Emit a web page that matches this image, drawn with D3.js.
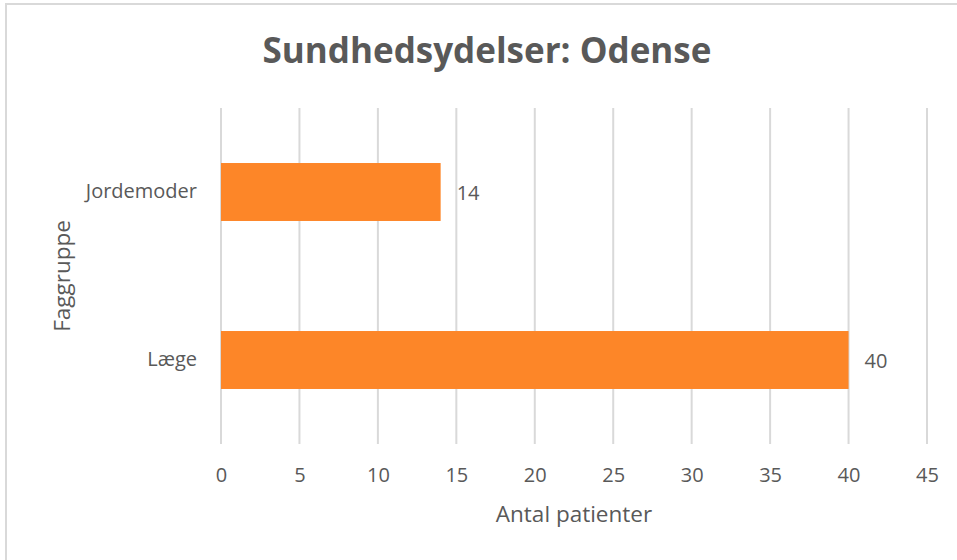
<!DOCTYPE html>
<html><head><meta charset="utf-8">
<script src="https://cdn.jsdelivr.net/npm/d3@7"></script>
<style>
html,body{margin:0;padding:0;background:#fff;}
text{font-family:"Open Sans",Lato,sans-serif;fill:#595959;}
</style></head>
<body><svg id="c" width="957" height="560"></svg>
<script>
const categories = ["Læge", "Jordemoder"];
const values = [40, 14];
const xTicks = [0, 5, 10, 15, 20, 25, 30, 35, 40, 45];
const title = "Sundhedsydelser: Odense";
const xTitle = "Antal patienter";
const yTitle = "Faggruppe";

const svg = d3.select("#c");
const W = 957, H = 560;
const m = {left: 221, right: 957-927, top: 108, bottom: 560-444};

svg.append("rect").attr("x",6).attr("y",4).attr("width",W).attr("height",H)
  .attr("fill","#fff").attr("stroke","#d9d9d9").attr("stroke-width",2);

const x = d3.scaleLinear().domain([0,45]).range([m.left, W-m.right]);
const y = d3.scaleBand().domain(categories.slice().reverse()).range([m.top, H-m.bottom])
  .paddingInner(0.655).paddingOuter(0.655/2);

// gridlines
svg.append("g").selectAll("line").data(xTicks).join("line")
  .attr("x1",d=>x(d)).attr("x2",d=>x(d)).attr("y1",m.top).attr("y2",H-m.bottom)
  .attr("stroke","#d9d9d9").attr("stroke-width",2);

// x axis labels
const xAxis = d3.axisBottom(x).tickValues(xTicks).tickSize(0).tickPadding(0);
const gx = svg.append("g").attr("transform",`translate(0,${H-m.bottom})`).call(xAxis);
gx.select(".domain").remove();
gx.selectAll("text").attr("dy",null).attr("y",37.5).attr("font-size",20).attr("fill","#595959");

// y axis labels
const yAxis = d3.axisLeft(y).tickSize(0).tickPadding(0);
const gy = svg.append("g").attr("transform",`translate(${m.left-24},0)`).call(yAxis);
gy.select(".domain").remove();
gy.selectAll("text").attr("font-size",20).attr("fill","#595959");

// bars
svg.append("g").selectAll("rect").data(categories).join("rect")
  .attr("x",x(0)).attr("y",d=>y(d)).attr("height",y.bandwidth())
  .attr("width",(d,i)=>x(values[i])-x(0)).attr("fill","#fd8628");

// data labels
svg.append("g").selectAll("text").data(categories).join("text")
  .attr("x",(d,i)=>x(values[i])+16).attr("y",d=>y(d)+y.bandwidth()/2+1)
  .attr("dy","0.35em").attr("font-size",20).text((d,i)=>values[i]);

// title
svg.append("text").attr("x",487).attr("y",63).attr("text-anchor","middle")
  .attr("font-size",35).attr("font-weight","bold").text(title);

svg.append("text").attr("x",(x(0)+x(45))/2).attr("y",522).attr("text-anchor","middle")
  .attr("font-size",22.5).text(xTitle);

svg.append("text").attr("transform",`translate(70,${(m.top+H-m.bottom)/2}) rotate(-90)`)
  .attr("text-anchor","middle").attr("font-size",22.5).text(yTitle);
</script></body></html>
